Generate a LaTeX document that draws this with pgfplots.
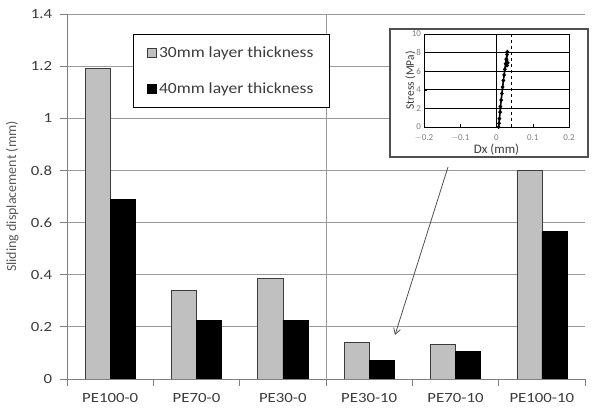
\documentclass[border=0pt]{standalone}
\usepackage{pgfplots}
\pgfplotsset{compat=1.18}
\usepackage{pgfplotstable}
\usepackage{fontspec}
\setmainfont{Carlito}
\usetikzlibrary{arrows.meta}

\definecolor{barGray}{HTML}{C0C0C0}
\definecolor{txt}{HTML}{3C3C3C}
\definecolor{labc}{HTML}{5A5A5A}
\definecolor{gridc}{HTML}{9A9A9A}
\definecolor{axisc}{HTML}{808080}
\definecolor{boxc}{HTML}{505050}

% sliding displacement (mm) per specimen
\pgfplotstableread{
idx thirty forty
0 1.19  0.69
1 0.34  0.225
2 0.385 0.225
3 0.14  0.072
4 0.132 0.107
5 0.80  0.565
}\disp

% stress vs. Dx for the PE30-10 specimen
\pgfplotstableread{
dx stress
0.006 0.0
0.007 0.4
0.008 0.9
0.010 1.6
0.011 2.2
0.013 2.9
0.015 3.6
0.017 4.3
0.019 5.0
0.021 5.6
0.023 6.2
0.025 6.8
0.027 7.3
0.029 7.8
0.030 8.1
0.028 7.2
0.031 6.9
0.029 6.6
}\stress

\begin{document}
\begin{tikzpicture}[x=1pt,y=1pt]
\useasboundingbox (-67pt,-30pt) rectangle (532pt,379pt);
\begin{axis}[
  at={(0pt,0pt)}, anchor=south west,
  scale only axis, width=518pt, height=365pt,
  xmin=-0.5, xmax=5.5, ymin=0, ymax=1.4,
  axis lines=left,
  axis line style={-, draw=axisc, line width=0.9pt},
  xtick={0,1,2,3,4,5},
  xticklabels={PE100-0,PE70-0,PE30-0,PE30-10,PE70-10,PE100-10},
  minor xtick={-0.5,0.5,1.5,2.5,3.5,4.5,5.5},
  major x tick style={draw=none},
  ytick={0,0.2,0.4,0.6,0.8,1,1.2,1.4},
  yticklabels={0,0.2,0.4,0.6,0.8,1,1.2,1.4},
  tick align=outside,
  major tick length=7pt, minor tick length=7pt,
  tick style={draw=axisc, line width=0.9pt},
  ymajorgrids,
  major grid style={draw=gridc, line width=0.8pt},
  x tick label style={font=\fontsize{14}{16}\selectfont, text=txt, xscale=1.2, yshift=-4pt},
  y tick label style={font=\fontsize{14}{16}\selectfont, text=txt, xscale=1.2, xshift=-3pt},
  ylabel={Sliding displacement (mm)},
  ylabel style={at={(axis description cs:-0.106,0.5)}, anchor=center,
    font=\fontsize{14}{16}\selectfont, text=labc},
  legend style={at={(rel axis cs:0.127,0.945)}, anchor=north west,
    draw=black, line width=1.3pt, fill=white,
    font=\fontsize{15.5}{17}\selectfont, text=txt,
    row sep=20pt, inner xsep=14pt, inner ysep=10pt},
  legend cell align=left,
  legend image code/.code={\draw[line width=0.6pt] (0pt,-4.5pt) rectangle (9pt,4.5pt);},
]
\addplot[ybar, bar width=0.29, bar shift=-0.145, fill=barGray, draw=txt, line width=0.6pt]
  table[x=idx, y=thirty]{\disp};
\addlegendentry{\scalebox{1.13}[1]{30mm layer thickness}}
\addplot[ybar, bar width=0.29, bar shift=0.145, fill=black, draw=black, line width=0.6pt]
  table[x=idx, y=forty]{\disp};
\addlegendentry{\scalebox{1.13}[1]{40mm layer thickness}}
\draw[gridc, line width=0.8pt] (axis cs:2.5,0) -- (axis cs:2.5,1.4);
\end{axis}

% inset frame
\draw[boxc, line width=1.2pt, fill=white] (323pt,222pt) rectangle (521pt,350pt);

\begin{axis}[
  at={(357pt,252pt)}, anchor=south west,
  scale only axis, width=145pt, height=93pt,
  xmin=-0.2, xmax=0.2, ymin=0, ymax=10,
  xtick={-0.2,-0.1,0,0.1,0.2},
  xticklabels={$-$0.2,$-$0.1,0,0.1,0.2},
  ytick={0,2,4,6,8,10},
  yticklabels={0,2,4,6,8,10},
  axis line style={black, line width=0.7pt},
  tick align=inside, major tick length=3pt,
  xtick pos=bottom, ytick pos=left,
  tick style={black, line width=0.5pt},
  ymajorgrids,
  major grid style={black, line width=0.7pt},
  tick label style={font=\fontsize{9}{10}\selectfont, text=gray, inner sep=0.8pt},
  x tick label style={yshift=-7pt},
  y tick label style={xshift=-2pt},
  ylabel={Stress (MPa)}, xlabel={Dx (mm)},
  ylabel style={font=\fontsize{11.5}{12}\selectfont, text=txt, yshift=-8pt},
  xlabel style={font=\fontsize{13}{14}\selectfont, text=txt, yshift=2pt},
]
\draw[black, line width=0.7pt] (axis cs:0,0) -- (axis cs:0,10);
\draw[black, line width=0.7pt, dashed] (axis cs:0.04,0) -- (axis cs:0.04,10);
\addplot[black, line width=1.6pt, mark=*, mark size=0.9pt] table[x=dx, y=stress]{\stress};
\end{axis}

% pointer to the PE30-10 bars
\draw[boxc, line width=0.8pt, -{Straight Barb[length=6pt, width=7pt]}] (381pt,212pt) -- (328pt,44pt);
\end{tikzpicture}
\end{document}
